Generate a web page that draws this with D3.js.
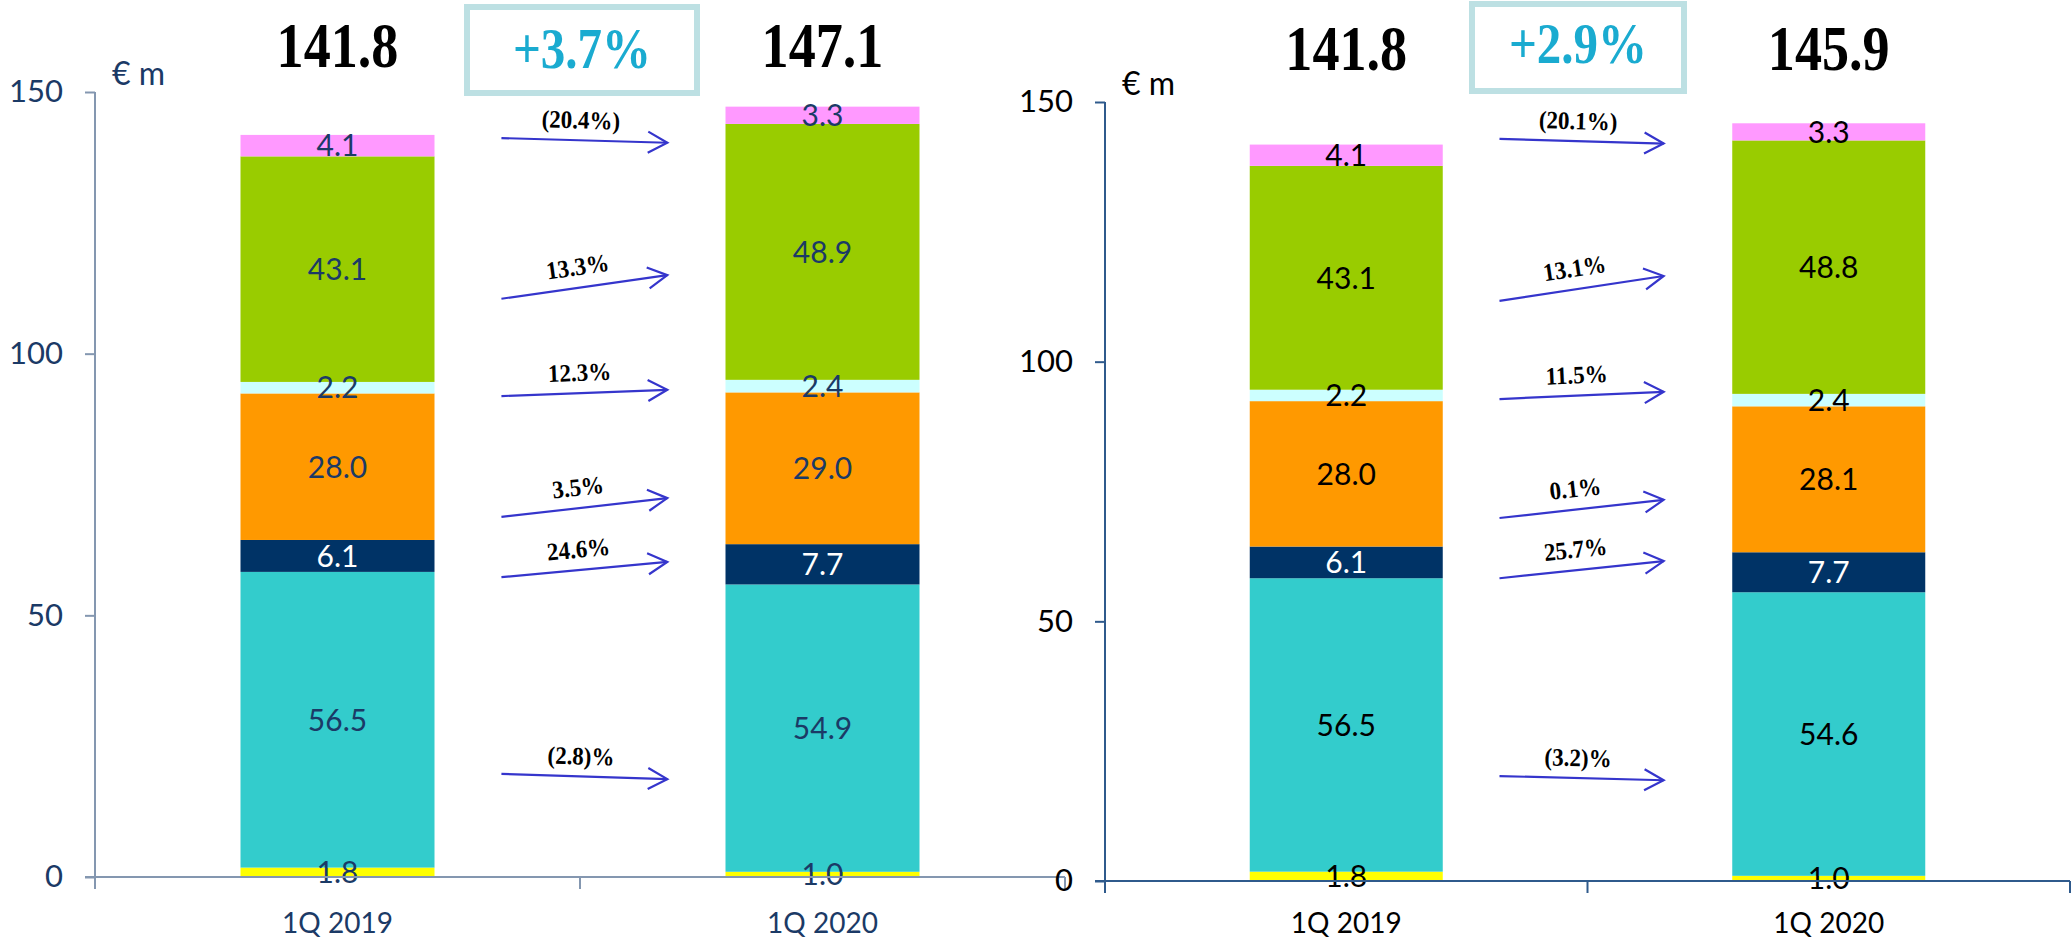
<!DOCTYPE html>
<html>
<head>
<meta charset="utf-8">
<script src="https://cdn.jsdelivr.net/npm/d3@7"></script>
<style>
  body { margin: 0; background: #fff; }
  svg { display: block; }
</style>
</head>
<body>
<script>
// categories and segments (bottom to top)
const categories = ["1Q 2019", "1Q 2020"];
const segColors = ["#FFFF00", "#33CCCC", "#003366", "#FF9900", "#CCFFFF", "#99CC00", "#FF99FF"];

const left2019 = [1.8, 56.5, 6.1, 28.0, 2.2, 43.1, 4.1];
const left2020 = [1.0, 54.9, 7.7, 29.0, 2.4, 48.9, 3.3];
const right2019 = [1.8, 56.5, 6.1, 28.0, 2.2, 43.1, 4.1];
const right2020 = [1.0, 54.6, 7.7, 28.1, 2.4, 48.8, 3.3];

const leftTotals = ["141.8", "147.1"];
const rightTotals = ["141.8", "145.9"];
const leftGrowth = "+3.7%";
const rightGrowth = "+2.9%";

// growth arrows between the bars (segments 2..7)
const leftChanges = ["(2.8)%", "24.6%", "3.5%", "12.3%", "13.3%", "(20.4%)"];
const leftArrowFrom = [19.7, 57.3, 68.8, 91.9, 110.5, 141.2];
const leftArrowTo = [18.7, 60.2, 72.4, 93.1, 115.0, 140.3];
const rightChanges = ["(3.2)%", "25.7%", "0.1%", "11.5%", "13.1%", "(20.1%)"];
const rightArrowFrom = [20.2, 58.3, 69.9, 92.8, 111.7, 142.9];
const rightArrowTo = [19.4, 61.6, 73.4, 94.2, 116.5, 142.0];

const yTicks = [0, 50, 100, 150];

const W = 2072, H = 943;
const svg = d3.select("body").append("svg")
    .attr("width", W)
    .attr("height", H);

const serif = "'Liberation Serif', 'Times New Roman', serif";
const sans = "Lato, 'Open Sans', sans-serif";

function drawChart(cfg) {
    const g = svg.append("g");

    const x = d3.scaleBand()
        .domain(categories)
        .range([cfg.x0, cfg.x1]);
    const y = d3.scaleLinear()
        .domain([0, 150])
        .range([cfg.y0, cfg.y150]);

    const bw = x.bandwidth() * 0.4;
    const barX = c => x(c) + (x.bandwidth() - bw) / 2;

    // stacked bars
    cfg.values.forEach((vals, i) => {
        const cat = categories[i];
        let acc = 0;
        const segs = vals.map((v, j) => {
            const s = { lo: acc, hi: acc + v, v: v, j: j };
            acc += v;
            return s;
        });
        const col = g.append("g");
        col.selectAll("rect")
            .data(segs)
            .join("rect")
            .attr("x", barX(cat))
            .attr("width", bw)
            .attr("y", d => y(d.hi))
            .attr("height", d => y(d.lo) - y(d.hi))
            .attr("fill", d => segColors[d.j]);

        col.selectAll("text")
            .data(segs)
            .join("text")
            .attr("x", barX(cat) + bw / 2)
            .attr("y", d => y((d.lo + d.hi) / 2))
            .attr("dy", "0.36em")
            .attr("text-anchor", "middle")
            .style("font-family", sans)
            .style("font-size", "30px")
            .style("fill", d => d.j === 2 ? "#fff" : cfg.textColor)
            .text(d => d.v.toFixed(1));

        // total above the bar (tall, condensed look)
        g.append("text")
            .attr("transform", `translate(${barX(cat) + bw / 2},${cfg.totalY}) scale(0.86,1)`)
            .attr("text-anchor", "middle")
            .style("font-family", serif)
            .style("font-weight", "bold")
            .style("font-size", "63px")
            .style("fill", "#000")
            .text(cfg.totals[i]);
    });

    // growth box
    g.append("rect")
        .attr("x", cfg.box[0])
        .attr("y", cfg.box[1])
        .attr("width", cfg.box[2])
        .attr("height", cfg.box[3])
        .attr("fill", "#fff")
        .attr("stroke", "#BDE0E3")
        .attr("stroke-width", 6);
    g.append("text")
        .attr("transform", `translate(${cfg.box[0] + cfg.box[2] / 2},${cfg.growthY}) scale(0.86,1)`)
        .attr("text-anchor", "middle")
        .style("font-family", serif)
        .style("font-weight", "bold")
        .style("font-size", "57px")
        .style("fill", "#1AABD0")
        .text(cfg.growth);

    // arrows
    const gapL = barX(categories[0]) + bw;
    const gapR = barX(categories[1]);
    const ax0 = gapL + (gapR - gapL) * cfg.arrowFrac[0];
    const ax1 = gapL + (gapR - gapL) * cfg.arrowFrac[1];
    const arrows = cfg.changes.map((t, k) => ({
        t: t, y0: y(cfg.arrowFrom[k]), y1: y(cfg.arrowTo[k])
    }));
    const ag = g.selectAll(".arrow")
        .data(arrows)
        .join("g")
        .attr("class", "arrow");
    ag.append("line")
        .attr("x1", ax0).attr("y1", d => d.y0)
        .attr("x2", ax1).attr("y2", d => d.y1)
        .attr("stroke", "#3535CC")
        .attr("stroke-width", 2.2);
    ag.append("path")
        .attr("d", d => {
            const a = Math.atan2(d.y1 - d.y0, ax1 - ax0);
            const L = 22, s = 0.5;
            const p1 = [ax1 - L * Math.cos(a - s), d.y1 - L * Math.sin(a - s)];
            const p2 = [ax1 - L * Math.cos(a + s), d.y1 - L * Math.sin(a + s)];
            return `M${p1}L${ax1},${d.y1}L${p2}`;
        })
        .attr("fill", "none")
        .attr("stroke", "#3535CC")
        .attr("stroke-width", 2.2);
    ag.append("text")
        .attr("transform", d => {
            const a = Math.atan2(d.y1 - d.y0, ax1 - ax0) * 180 / Math.PI;
            const mx = (ax0 + ax1) / 2 - 4, my = (d.y0 + d.y1) / 2;
            return `translate(${mx},${my}) rotate(${a}) translate(0,-12) scale(0.92,1)`;
        })
        .attr("text-anchor", "middle")
        .style("font-family", serif)
        .style("font-weight", "bold")
        .style("font-size", "25px")
        .style("fill", "#000")
        .text(d => d.t);

    // y axis
    const yAxis = d3.axisLeft(y)
        .tickValues(yTicks)
        .tickSize(10)
        .tickPadding(22)
        .tickSizeOuter(0);
    const yg = g.append("g")
        .attr("transform", `translate(${cfg.x0},0)`)
        .call(yAxis);
    yg.select(".domain").remove();
    yg.selectAll(".tick line").attr("stroke", cfg.axisColor).attr("stroke-width", 2);
    yg.selectAll(".tick text")
        .style("font-family", sans)
        .style("font-size", "31px")
        .style("fill", cfg.textColor);
    g.append("line")
        .attr("x1", cfg.x0).attr("x2", cfg.x0)
        .attr("y1", y(150)).attr("y2", y(0) + 12)
        .attr("stroke", cfg.axisColor)
        .attr("stroke-width", 2);

    // x axis
    g.append("line")
        .attr("x1", cfg.x0 - 10).attr("x2", cfg.x1)
        .attr("y1", y(0)).attr("y2", y(0))
        .attr("stroke", cfg.axisColor)
        .attr("stroke-width", 2);
    const bounds = categories.map(c => x(c) + x.bandwidth());
    g.selectAll(".bound")
        .data(bounds)
        .join("line")
        .attr("x1", d => d).attr("x2", d => d)
        .attr("y1", y(0)).attr("y2", y(0) + 12)
        .attr("stroke", cfg.axisColor)
        .attr("stroke-width", 2);
    const xAxis = d3.axisBottom(x).tickSize(0).tickPadding(0);
    const xg = g.append("g")
        .attr("transform", `translate(0,${y(0)})`)
        .call(xAxis);
    xg.select(".domain").remove();
    xg.selectAll(".tick text")
        .attr("y", cfg.catY)
        .attr("dy", 0)
        .style("font-family", sans)
        .style("font-size", "28px")
        .style("fill", cfg.textColor);

    // unit label
    g.append("text")
        .attr("x", cfg.x0 + 17)
        .attr("y", y(150) - 7)
        .style("font-family", sans)
        .style("font-size", "32px")
        .style("fill", cfg.textColor)
        .text("€ m");
}

drawChart({
    x0: 95, x1: 1065, y0: 877, y150: 92,
    values: [left2019, left2020],
    totals: leftTotals, growth: leftGrowth,
    changes: leftChanges, arrowFrom: leftArrowFrom, arrowTo: leftArrowTo,
    arrowFrac: [0.23, 0.80],
    totalY: 67, growthY: 68, box: [467, 7, 230, 86], catY: 56,
    textColor: "#1B3A66", axisColor: "#8497B0"
});

drawChart({
    x0: 1105, x1: 2070, y0: 881, y150: 102,
    values: [right2019, right2020],
    totals: rightTotals, growth: rightGrowth,
    changes: rightChanges, arrowFrom: rightArrowFrom, arrowTo: rightArrowTo,
    arrowFrac: [0.196, 0.763],
    totalY: 70, growthY: 63, box: [1472, 4, 212, 87], catY: 52,
    textColor: "#000", axisColor: "#2F5A8C"
});
</script>
</body>
</html>
